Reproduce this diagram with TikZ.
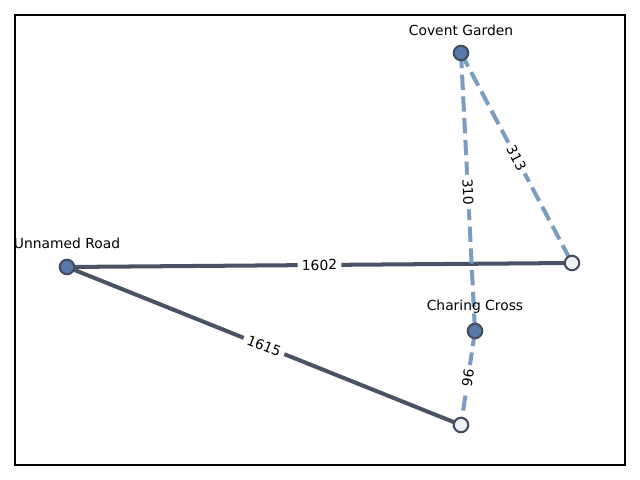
\documentclass[tikz,border=0pt]{standalone}
\usepackage{fontspec}
\setmainfont{DejaVu Sans}
\begin{document}
\begin{tikzpicture}[x=0.01in,y=-0.01in,
  stnode/.style={circle,draw=nodeedge,line width=1.5pt,minimum size=0.145in,inner sep=0pt},
  filledst/.style={stnode,fill=nodefill},
  openst/.style={stnode,fill=openfill},
  solidedge/.style={draw=solidcol,line width=2.9pt},
  dashedge/.style={draw=dashcol,line width=2.9pt,dash pattern=on 11pt off 4.7pt},
  elabel/.style={fill=white,inner xsep=3pt,inner ysep=1.5pt,font=\fontsize{10}{12}\selectfont,sloped,midway},
  nlabel/.style={font=\fontsize{10}{12}\selectfont}]
\definecolor{nodeedge}{HTML}{454E60}
\definecolor{nodefill}{HTML}{5878A8}
\definecolor{openfill}{HTML}{EEF0F5}
\definecolor{solidcol}{HTML}{4A5366}
\definecolor{dashcol}{HTML}{7A9CC0}
\useasboundingbox (0,0) rectangle (640,480);
\draw[line width=0.8pt] (15,15) rectangle (625,465);
\coordinate (cgc) at (461,53);
\coordinate (rc) at (572,263);
\coordinate (urc) at (67,267);
\coordinate (ccc) at (475,331);
\coordinate (bc) at (461,425);
\path[solidedge] (urc) -- node[elabel]{1602} (rc);
\path[solidedge] (urc) -- node[elabel]{1615} (bc);
\path[dashedge] (cgc) -- node[elabel]{313} (rc);
\path[dashedge] (cgc) -- node[elabel]{310} (ccc);
\path[dashedge] (ccc) -- node[elabel]{96} (bc);
\node[filledst] (cg) at (cgc) {};
\node[openst] (r) at (rc) {};
\node[filledst] (ur) at (urc) {};
\node[filledst] (cc) at (ccc) {};
\node[openst] (b) at (bc) {};
\node[nlabel] (cgl) at (461,30) {Covent Garden};
\node[nlabel] (ccl) at (475,307) {Charing Cross};
\node[nlabel] (url) at (67,243) {Unnamed Road};
\end{tikzpicture}
\end{document}
